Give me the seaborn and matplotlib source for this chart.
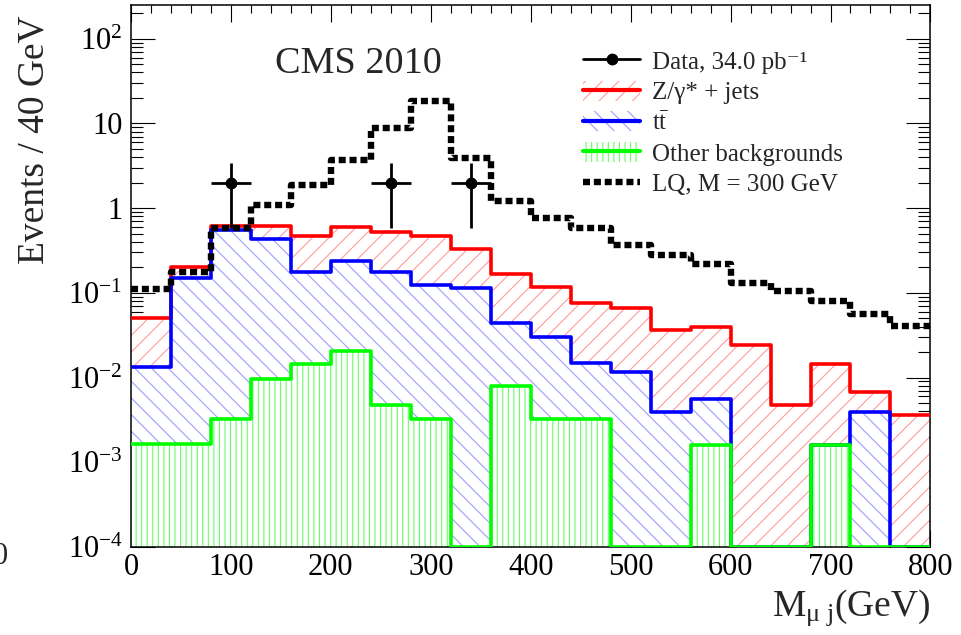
import numpy as np
import matplotlib
matplotlib.use("Agg")
import matplotlib.pyplot as plt
import seaborn as sns
from matplotlib.lines import Line2D
from matplotlib.patches import Patch
from matplotlib.ticker import MultipleLocator, LogLocator, FuncFormatter, NullFormatter

# ---- binning: M(mu j) in 40 GeV bins ----
bin_edges = list(range(0, 801, 40))
bin_centers = np.array(bin_edges[:-1]) + 20

# ---- expected backgrounds per bin (events / 40 GeV) ----
other_bkg = [0.00165, 0.00165, 0.0032, 0.0095, 0.0144, 0.0207, 0.0047, 0.0032, 0.0, 0.0080,
             0.0032, 0.0032, 0.0, 0.0, 0.0016, 0.0, 0.0, 0.0016, 0.0, 0.0]
ttbar = [0.0116, 0.148, 0.547, 0.425, 0.162, 0.216, 0.171, 0.119, 0.115, 0.036,
         0.0273, 0.0118, 0.0117, 0.0039, 0.0040, 0.0, 0.0, 0.0, 0.0039, 0.0]
zjets = [0.0378, 0.053, 0.070, 0.176, 0.291, 0.357, 0.344, 0.353, 0.215, 0.121,
         0.0875, 0.060, 0.0553, 0.0321, 0.0334, 0.024, 0.0047, 0.0129, 0.0029, 0.0036]

# ---- signal: leptoquark, M = 300 GeV ----
lq_300 = [0.11, 0.175, 0.585, 1.08, 1.89, 3.7, 8.9, 18.6, 3.96, 1.22,
          0.77, 0.58, 0.37, 0.28, 0.222, 0.129, 0.106, 0.080, 0.057, 0.0407]

# ---- observed events ----
data_counts = [0, 0, 2, 0, 0, 0, 2, 0, 2, 0, 0, 0, 0, 0, 0, 0, 0, 0, 0, 0]

legend_labels = ["Data, 34.0 pb\u207b\u00b9", "Z/\u03b3* + jets",
                 r"$\mathregular{t\bar{t}}$", "Other backgrounds", "LQ, M = 300 GeV"]

Y_LO, Y_HI = 1e-4, 250

sns.set_style("ticks")
plt.rcParams["font.family"] = ["Liberation Serif", "DejaVu Serif"]
plt.rcParams["mathtext.fontset"] = "custom"
plt.rcParams["mathtext.rm"] = "Liberation Serif"
plt.rcParams["mathtext.it"] = "Liberation Serif:italic"
plt.rcParams["mathtext.bf"] = "Liberation Serif:bold"
plt.rcParams["hatch.linewidth"] = 0.8

fig = plt.figure(figsize=(9.61, 6.35), dpi=100)
ax = fig.add_axes([0.1363, 0.1386, 0.8319, 0.8535])
ax.set_yscale("log")

# stacked levels
lvl_other = np.asarray(other_bkg)
lvl_tt = lvl_other + np.asarray(ttbar)
lvl_total = lvl_tt + np.asarray(zjets)

RED_H, BLUE_H, GREEN_H = "#ff9c9c", "#9c9cff", "#66ff66"
layers = [
    (lvl_total, "#ff0000", RED_H, "//"),
    (lvl_tt, "#0000ff", BLUE_H, "\\\\"),
    (lvl_other, "#00ff00", GREEN_H, "|||"),
]

# hatched fills, drawn from the outermost stack inwards
for lvl, _, hcol, hatch in layers:
    sns.histplot(x=bin_centers, weights=lvl, bins=bin_edges, element="step", fill=True,
                 facecolor="white", edgecolor=hcol, hatch=hatch, linewidth=0,
                 alpha=1, ax=ax, zorder=1)

# outlines of each stack level
for lvl, col, _, _ in layers:
    sns.histplot(x=bin_centers, weights=np.maximum(lvl, Y_LO), bins=bin_edges,
                 element="step", fill=False, color=col, linewidth=2.6, ax=ax, zorder=3)

# signal
sns.histplot(x=bin_centers, weights=lq_300, bins=bin_edges, element="step", fill=False,
             color="black", linewidth=4.6, linestyle=(0, (1.1, 0.6)), ax=ax, zorder=4)

# data points with Poisson errors
dc = np.asarray(data_counts, dtype=float)
m = dc > 0
ax.errorbar(bin_centers[m], dc[m], xerr=20, yerr=np.sqrt(dc[m]), fmt="o", color="black",
            ms=7.5, elinewidth=2, capsize=0, zorder=5)

ax.set_xlim(0, 800)
ax.set_ylim(Y_LO, Y_HI)

# axes, ticks
ax.xaxis.set_major_locator(MultipleLocator(100))
ax.xaxis.set_minor_locator(MultipleLocator(20))
ax.yaxis.set_major_locator(LogLocator(base=10, numticks=20))
ax.yaxis.set_minor_locator(LogLocator(base=10, subs=np.arange(2, 10), numticks=20))
ax.yaxis.set_minor_formatter(NullFormatter())


def log_label(v, _pos):
    e = int(round(np.log10(v)))
    if e == 0:
        return "1"
    if e == 1:
        return "10"
    return r"10$^{\mathregular{%d}}$" % e


ax.yaxis.set_major_formatter(FuncFormatter(log_label))
ax.tick_params(axis="both", which="both", direction="in", top=True, right=True,
               colors="black", width=0.8, labelsize=22)
ax.tick_params(axis="x", which="major", length=12, pad=4)
ax.tick_params(axis="x", which="minor", length=6)
ax.tick_params(axis="y", which="major", length=17, pad=6)
ax.tick_params(axis="y", which="minor", length=8.5)
for s in ax.spines.values():
    s.set_linewidth(1.1)
    s.set_color("black")

ax.set_xlabel(r"M$_{\mathregular{\mu\ j}}$(GeV)", fontsize=27, loc="right")
ax.xaxis.set_label_coords(1.0, -0.075)
ax.set_ylabel("Events / 40 GeV", fontsize=27, loc="top")
ax.yaxis.set_label_coords(-0.1, 0.98)

ax.text(0.284, 0.891, "CMS 2010", transform=ax.transAxes, fontsize=27.5, ha="center",
        va="center")

# legend
h_data = Line2D([], [], color="black", marker="o", ms=7.5, lw=2)
h_z = (Patch(facecolor="white", edgecolor=RED_H, hatch="//", lw=0),
       Line2D([], [], color="#ff0000", lw=3))
h_tt = (Patch(facecolor="white", edgecolor=BLUE_H, hatch="\\\\", lw=0),
        Line2D([], [], color="#0000ff", lw=3))
h_oth = (Patch(facecolor="white", edgecolor=GREEN_H, hatch="|||", lw=0),
         Line2D([], [], color="#00ff00", lw=3))
h_lq = Line2D([], [], color="black", lw=4.6, linestyle=(0, (1.1, 0.6)))
ax.legend([h_data, h_z, h_tt, h_oth, h_lq], legend_labels, loc="upper left",
          bbox_to_anchor=(583 / 961, 1 - 50 / 635), bbox_transform=fig.transFigure,
          frameon=False, fontsize=18, handlelength=2.28, handleheight=0.85,
          handletextpad=0.47, labelspacing=0.28, borderpad=0, borderaxespad=0)

fig.text(0.0, 1 - 557 / 635, "0", fontsize=22, ha="center", va="center")

fig.savefig("out.png", dpi=100, facecolor="white")
